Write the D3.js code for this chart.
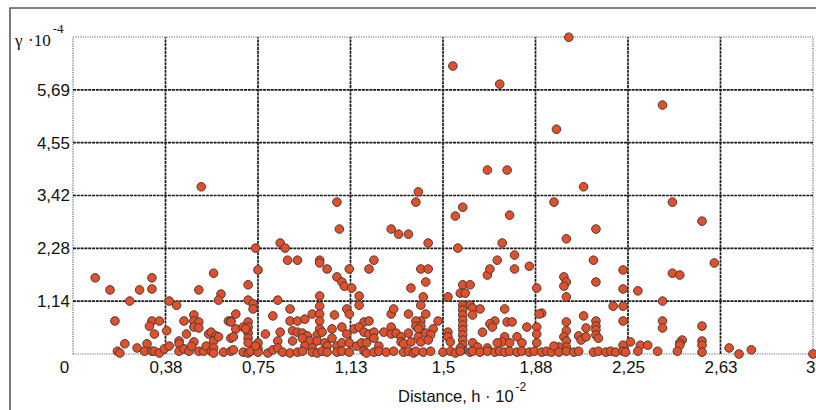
<!DOCTYPE html>
<html><head><meta charset="utf-8">
<script src="https://cdn.jsdelivr.net/npm/d3@7"></script>
<style>body{margin:0;background:#fff} svg{display:block}</style>
</head><body>
<svg id="c" width="816" height="410"></svg>
<script>
// Axis ticks
const xTickValues = [0, 0.375, 0.75, 1.125, 1.5, 1.875, 2.25, 2.625, 3];
const xTickLabels = ["0", "0,38", "0,75", "1,13", "1,5", "1,88", "2,25", "2,63", "3"];
const yTickValues = [0, 1.1375, 2.275, 3.4125, 4.55, 5.6875, 6.825];
const yTickLabels = ["", "1,14", "2,28", "3,42", "4,55", "5,69", ""];

// Data: [distance (h·10^-2), gamma (·10^-4)]
const highPoints = [[2.01,6.82],[1.54,6.20],[1.73,5.81],[2.39,5.36],[1.96,4.84],[2.07,3.60],[0.52,3.60],[1.68,3.96],[1.76,3.96],[1.40,3.49],[1.39,3.27],[1.07,3.27],[1.95,3.27],[2.43,3.27],[1.58,3.16],[1.55,2.97],[1.77,2.99],[2.55,2.86],[1.08,2.69],[1.29,2.69],[1.32,2.58],[1.36,2.58],[2.12,2.69],[2.00,2.48],[1.44,2.39],[1.74,2.39],[0.84,2.39],[0.86,2.28],[0.74,2.28],[1.56,2.28],[1.79,2.13],[0.87,2.02],[0.91,2.02],[1.00,2.02],[1.00,1.96],[1.22,2.02],[1.72,2.02],[2.11,2.02],[2.60,1.96],[1.85,1.89]];
const midPoints = [[0.09,1.64],[0.15,1.38],[0.27,1.38],[0.32,1.64],[0.32,1.40],[0.23,1.14],[0.39,1.14],[0.42,1.05],[0.51,1.38],[0.57,1.74],[0.60,1.29],[0.59,1.16],[0.71,1.49],[0.75,1.81],[0.71,1.16],[0.73,1.08],[0.73,0.97],[0.83,1.16],[1.03,1.83],[1.12,1.83],[1.20,1.83],[1.41,1.83],[1.44,1.83],[1.43,1.55],[1.37,1.42],[1.07,1.66],[1.09,1.55],[1.10,1.46],[1.13,1.42],[1.00,1.25],[1.16,1.25],[1.68,1.70],[1.69,1.83],[1.79,1.83],[1.88,1.42],[1.58,1.49],[1.61,1.49],[1.57,1.31],[1.59,1.31],[1.52,1.23],[1.42,1.23],[2.23,1.81],[1.99,1.66],[2.00,1.55],[1.99,1.46],[2.00,1.23],[2.12,1.55],[2.23,1.40],[2.29,1.36],[2.43,1.74],[2.46,1.70],[2.39,1.14],[2.19,1.03],[2.23,1.03],[1.41,1.05],[1.90,0.88],[1.16,1.05],[1.11,0.97],[1.00,1.03],[0.88,0.97]];
const lowPointsA = [[0.17,0.71],[0.32,0.71],[0.35,0.71],[0.31,0.60],[0.33,0.43],[0.38,0.50],[0.45,0.71],[0.49,0.84],[0.49,0.71],[0.51,0.69],[0.49,0.58],[0.51,0.56],[0.46,0.43],[0.55,0.43],[0.56,0.47],[0.58,0.39],[0.63,0.71],[0.64,0.71],[0.43,0.28],[0.43,0.22],[0.49,0.26],[0.57,0.28],[0.21,0.22],[0.30,0.22],[0.26,0.13],[0.18,0.06],[0.19,0.02],[0.29,0.06],[0.32,0.06],[0.33,0.06],[0.35,0.02],[0.37,0.11],[0.39,0.17],[0.43,0.06],[0.45,0.11],[0.47,0.06],[0.48,0.17],[0.51,0.06],[0.53,0.06],[0.54,0.17],[0.56,0.06],[0.57,0.13],[0.57,0.02],[0.61,0.04],[0.64,0.06],[0.66,0.86],[0.66,0.54],[0.64,0.34],[0.59,0.37],[0.69,0.58],[0.71,0.69],[0.71,0.58],[0.71,0.45],[0.71,0.34],[0.71,0.24],[0.78,0.43],[0.75,0.24],[0.81,0.82],[0.65,0.09],[0.69,0.04],[0.71,0.02],[0.72,0.06],[0.75,0.11],[0.75,0.04],[0.79,0.02],[0.81,0.09]];
const lowPointsB = [[0.97,0.86],[1.00,0.86],[1.06,0.84],[1.12,0.86],[1.29,0.86],[0.88,0.71],[0.91,0.71],[0.94,0.75],[1.00,0.71],[1.18,0.69],[1.20,0.71],[0.64,0.69],[0.70,0.54],[0.84,0.47],[0.89,0.50],[0.91,0.47],[0.93,0.45],[0.95,0.39],[1.00,0.54],[0.99,0.41],[1.01,0.47],[1.05,0.54],[1.09,0.58],[1.11,0.43],[1.14,0.54],[1.16,0.58],[1.18,0.47],[1.20,0.43],[1.22,0.47],[1.26,0.47],[1.29,0.58],[1.29,0.43],[0.65,0.37],[0.74,0.17],[0.83,0.28],[0.83,0.13],[0.89,0.28],[0.93,0.34],[0.96,0.28],[0.94,0.17],[0.97,0.13],[0.99,0.28],[1.02,0.24],[1.03,0.17],[1.05,0.34],[1.07,0.17],[1.09,0.24],[1.12,0.24],[1.15,0.17],[1.17,0.24],[1.19,0.24],[1.22,0.34],[1.24,0.17],[0.85,0.04],[0.88,0.02],[0.91,0.04],[0.93,0.06],[0.97,0.04],[0.99,0.02],[1.01,0.06],[1.03,0.04],[1.07,0.04],[1.09,0.06],[1.12,0.04],[1.18,0.06],[1.19,0.02],[1.22,0.04],[1.24,0.06],[1.27,0.04],[1.30,0.06]];
const lowPointsC = [[1.58,1.05],[1.58,0.95],[1.58,0.84],[1.58,0.73],[1.58,0.62],[1.58,0.52],[1.58,0.41],[1.58,0.30],[1.58,0.19],[1.58,0.09],[1.61,1.05],[1.62,0.99],[1.65,0.97],[1.62,0.84],[1.75,0.97],[1.89,0.86],[1.30,0.97],[1.36,0.86],[1.43,0.86],[1.41,0.71],[1.48,0.71],[1.39,0.71],[1.39,0.60],[1.41,0.60],[1.40,0.54],[1.43,0.45],[1.46,0.54],[1.36,0.45],[1.31,0.45],[1.33,0.37],[1.33,0.26],[1.34,0.22],[1.37,0.26],[1.40,0.37],[1.41,0.26],[1.45,0.41],[1.44,0.30],[1.52,0.47],[1.52,0.37],[1.53,0.26],[1.71,0.71],[1.69,0.65],[1.70,0.58],[1.66,0.47],[1.76,0.69],[1.78,0.69],[1.84,0.58],[1.88,0.58],[1.88,0.43],[1.80,0.37],[1.75,0.37],[1.74,0.26],[1.72,0.24],[1.77,0.24],[1.82,0.24],[1.88,0.24],[1.62,0.24],[1.64,0.15],[1.68,0.13],[1.57,0.13],[1.34,0.04],[1.36,0.06],[1.38,0.02],[1.39,0.06],[1.42,0.04],[1.45,0.06],[1.50,0.04],[1.53,0.06],[1.55,0.02],[1.57,0.06],[1.61,0.04],[1.62,0.06],[1.65,0.04],[1.68,0.06],[1.71,0.04],[1.73,0.06],[1.75,0.04],[1.77,0.06],[1.80,0.04],[1.82,0.06],[1.85,0.04],[1.87,0.06],[1.90,0.04],[1.92,0.06],[1.94,0.04]];
const lowPointsD = [[2.07,0.82],[2.12,0.71],[2.12,0.60],[2.12,0.52],[2.12,0.41],[2.00,0.69],[2.00,0.50],[1.99,0.37],[2.00,0.28],[2.00,0.15],[2.08,0.56],[2.05,0.39],[2.06,0.30],[2.08,0.37],[2.13,0.34],[2.23,0.71],[2.23,0.19],[2.26,0.26],[2.30,0.19],[2.33,0.19],[2.39,0.71],[2.39,0.56],[2.55,0.60],[2.47,0.30],[2.46,0.24],[2.46,0.19],[2.55,0.28],[2.55,0.19],[1.97,0.15],[1.95,0.17],[1.97,0.04],[2.00,0.06],[2.03,0.04],[2.05,0.06],[2.11,0.04],[2.13,0.06],[2.16,0.04],[2.18,0.06],[2.20,0.04],[2.23,0.06],[2.24,0.04],[2.29,0.06],[2.37,0.06],[2.45,0.06],[2.55,0.04],[2.66,0.13],[2.70,0.00],[2.75,0.09],[3.00,0.00]];

const allPoints = [].concat(highPoints, midPoints, lowPointsA, lowPointsB, lowPointsC, lowPointsD);

const svg = d3.select("#c");
const x = d3.scaleLinear().domain([0, 3]).range([73, 813]);
const y = d3.scaleLinear().domain([0, 6.825]).range([354, 37]);
const font = "'Liberation Sans', Arial, sans-serif";

svg.append("rect").attr("width", 816).attr("height", 410).attr("fill", "#fff");
// outer frame
svg.append("path").attr("d", "M10,410V8H816").attr("fill", "none").attr("stroke", "#5a5a5a").attr("stroke-width", 1.6);

// grid
const grid = svg.append("g");
xTickValues.forEach((v, i) => {
  const edge = i === 0 || i === xTickValues.length - 1;
  grid.append("line").attr("x1", x(v)).attr("x2", x(v)).attr("y1", y(0)).attr("y2", y(6.825))
    .attr("stroke", edge ? "#666" : "#1a1a1a").attr("stroke-width", edge ? 1.2 : 1.7)
    .attr("stroke-dasharray", edge ? "1.2,1.2" : "3,0.8");
});
yTickValues.forEach((v, i) => {
  const edge = i === 0 || i === yTickValues.length - 1;
  grid.append("line").attr("y1", y(v)).attr("y2", y(v)).attr("x1", x(0)).attr("x2", x(3))
    .attr("stroke", edge ? "#666" : "#1a1a1a").attr("stroke-width", edge ? 1.2 : 1.7)
    .attr("stroke-dasharray", edge ? "1.2,1.2" : "3,0.8");
});

// axes (labels only)
const yAxis = svg.append("g").attr("transform", `translate(${x(0)},0)`)
  .call(d3.axisLeft(y).tickValues(yTickValues.slice(1, 6)).tickFormat((d, i) => yTickLabels[i + 1]).tickSize(0).tickPadding(3));
yAxis.select(".domain").remove();
yAxis.selectAll("text").attr("font-family", font).attr("font-size", 17).attr("fill", "#111");

const xAxis = svg.append("g").attr("transform", `translate(0,${y(0)})`)
  .call(d3.axisBottom(x).tickValues(xTickValues).tickFormat((d, i) => xTickLabels[i]).tickSize(0).tickPadding(7));
xAxis.select(".domain").remove();
xAxis.selectAll("text").attr("font-family", font).attr("font-size", 17).attr("fill", "#111");
xAxis.selectAll(".tick").filter((d, i) => i === 0).select("text").attr("x", -9);
xAxis.selectAll(".tick").filter((d, i) => i === xTickValues.length - 1).select("text")
  .attr("text-anchor", "end").attr("x", 2);

// points
svg.append("g").selectAll("circle").data(allPoints).join("circle")
  .attr("cx", d => x(d[0])).attr("cy", d => y(d[1])).attr("r", 4.3)
  .attr("fill", "#e2502b").attr("stroke", "#4a3a36").attr("stroke-width", 1);

// y title
svg.append("text").attr("x", 15).attr("y", 46).attr("font-family", "'Liberation Serif', 'Times New Roman', serif")
  .attr("font-size", 17).attr("fill", "#111").text("γ");
const yt = svg.append("text").attr("x", 28).attr("y", 46).attr("font-family", "'Liberation Serif', 'Times New Roman', serif")
  .attr("font-size", 17).attr("fill", "#111");
yt.append("tspan").text("·10");
yt.append("tspan").attr("dy", -13).attr("dx", 2).attr("font-size", 13).text("-4");

// x title
const xt = svg.append("text").attr("x", 398).attr("y", 402).attr("font-family", font).attr("font-size", 16.5).attr("fill", "#111");
xt.append("tspan").text("Distance, h · 10");
xt.append("tspan").attr("dy", -11).attr("dx", 2).attr("font-size", 12).text("-2");
</script>
</body></html>
